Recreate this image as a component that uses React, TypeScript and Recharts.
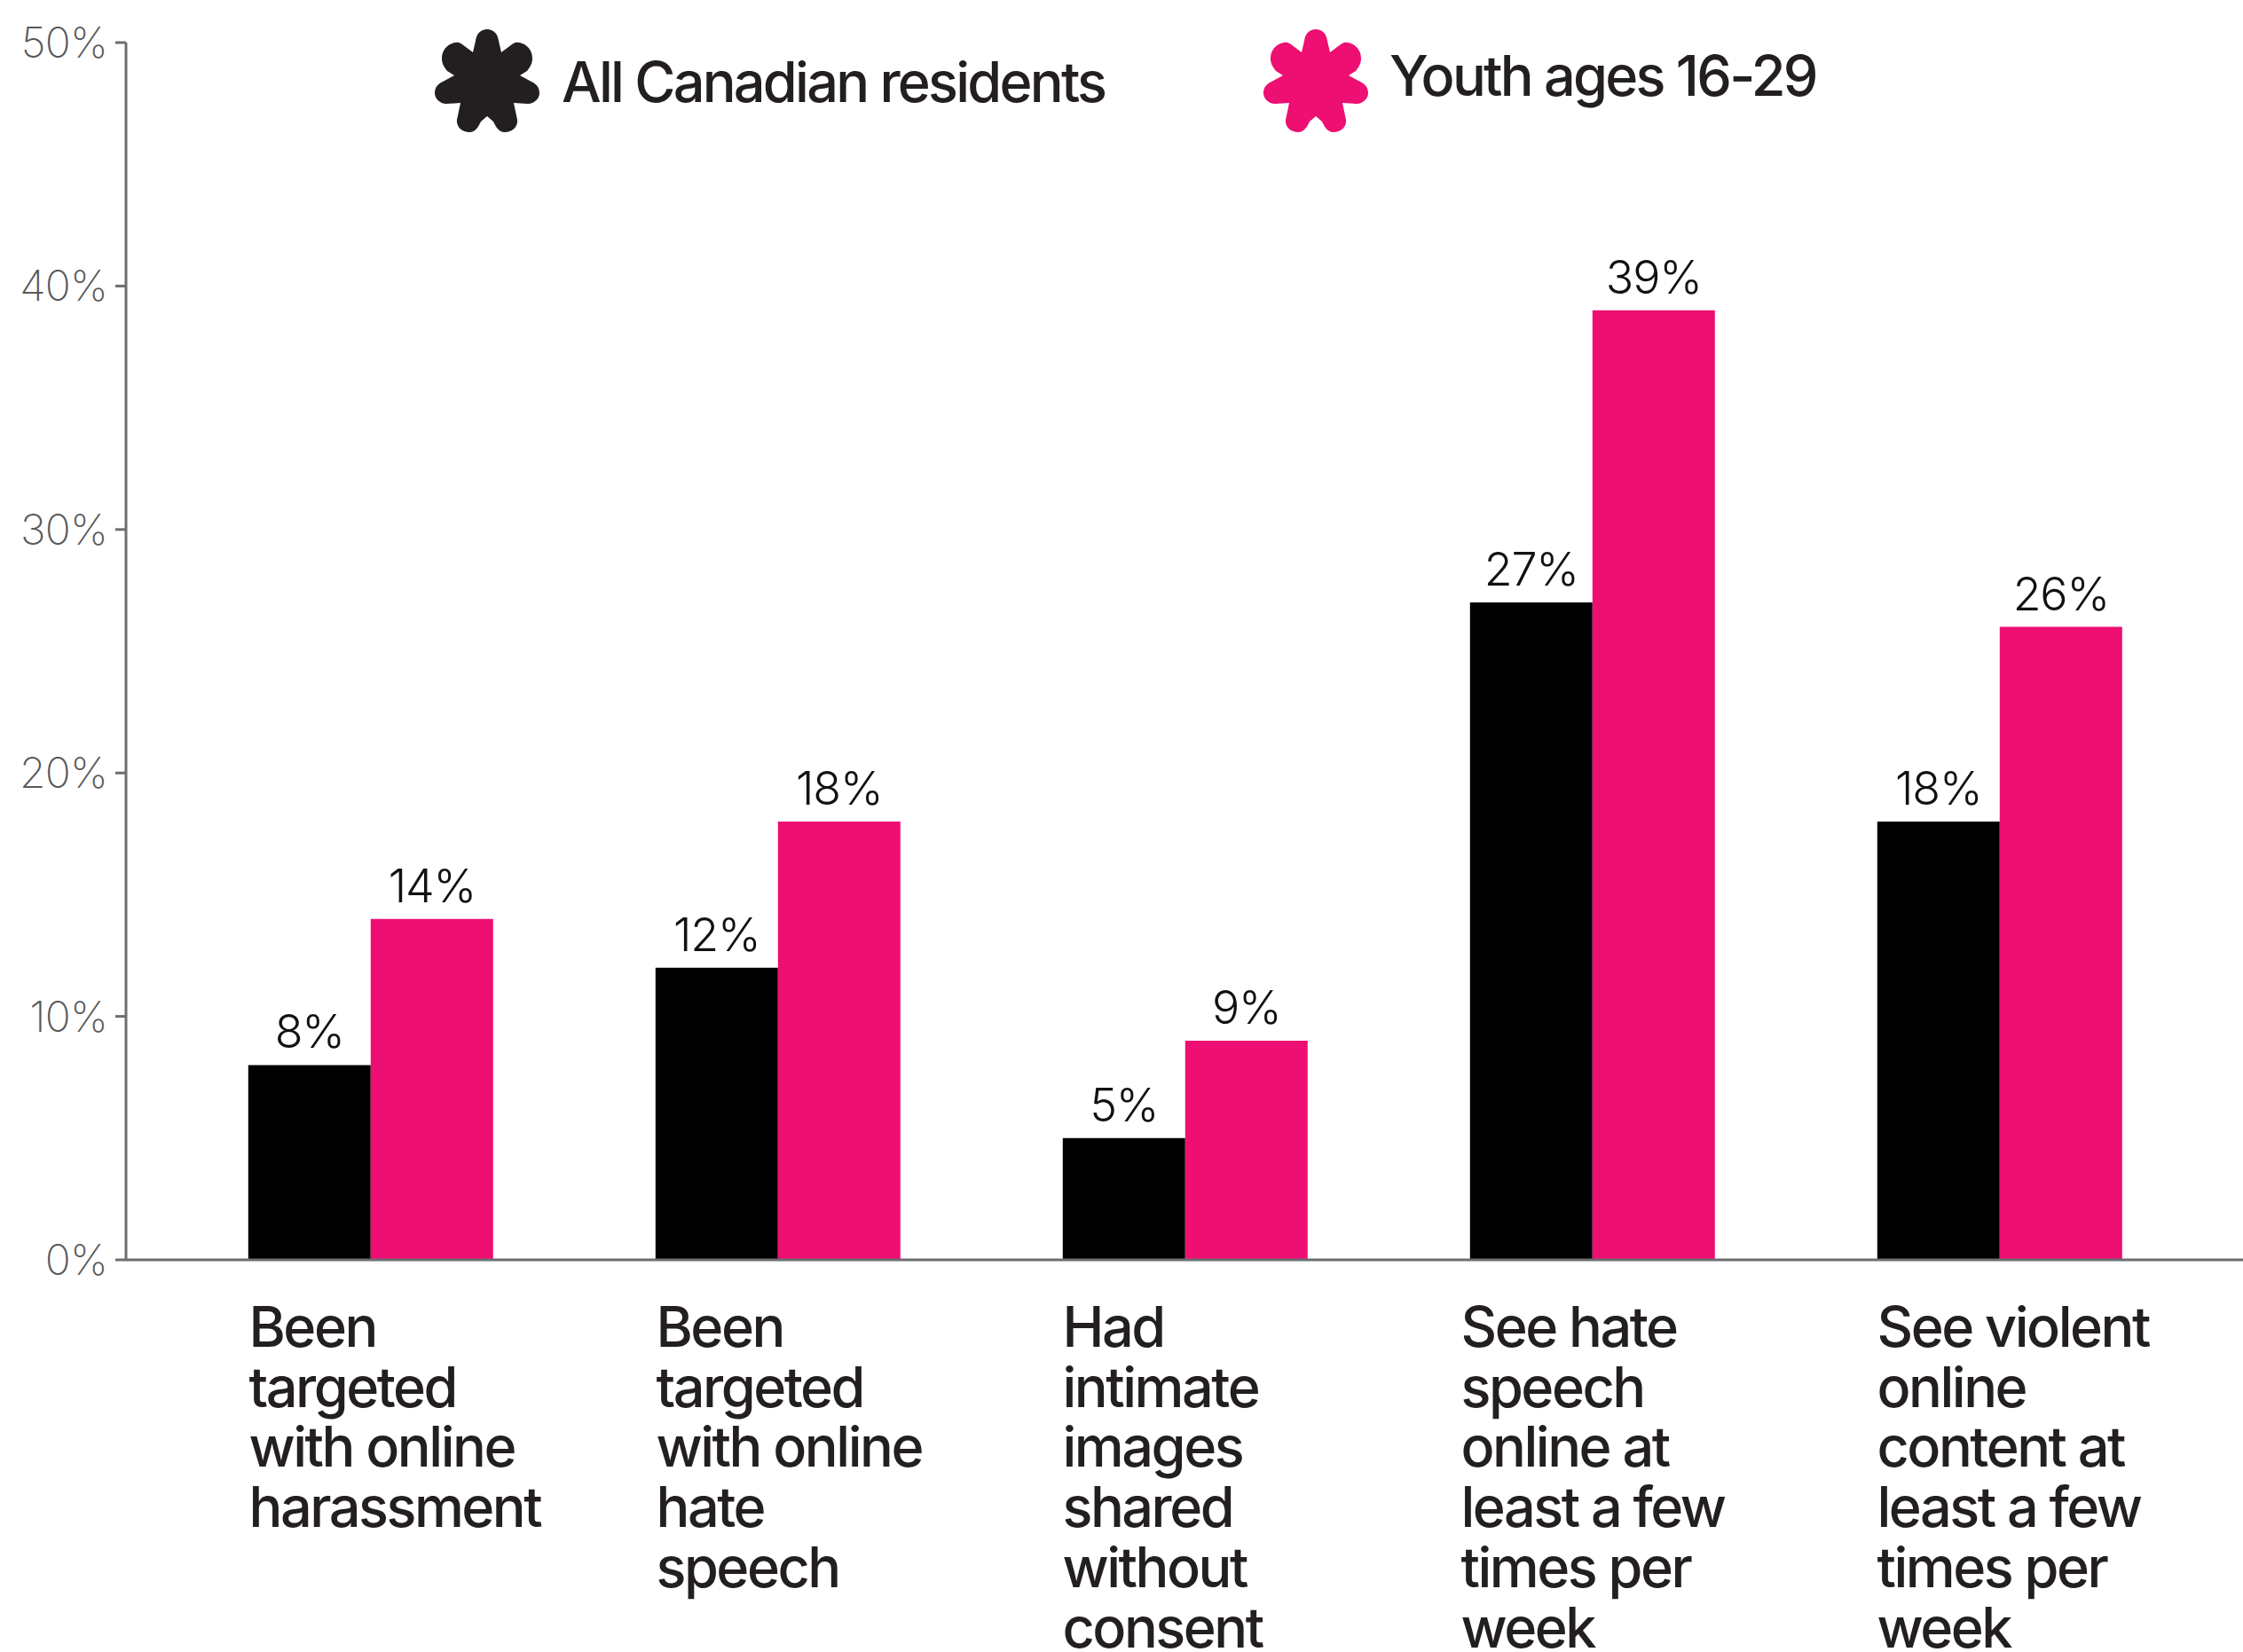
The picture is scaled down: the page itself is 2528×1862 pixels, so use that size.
import React from "react";
import { BarChart, Bar, XAxis, YAxis, Legend, LabelList } from "recharts";

const categories = ["harassment", "hateSpeech", "intimate", "seeHate", "seeViolent"];
const categoryLines: string[][] = [
  ["Been", "targeted", "with online", "harassment"],
  ["Been", "targeted", "with online", "hate", "speech"],
  ["Had", "intimate", "images", "shared", "without", "consent"],
  ["See hate", "speech", "online at", "least a few", "times per", "week"],
  ["See violent", "online", "content at", "least a few", "times per", "week"],
];
const allResidents = [8, 12, 5, 27, 18];
const youth = [14, 18, 9, 39, 26];
const yTicks = [0, 10, 20, 30, 40, 50];

const INK = "#231f20";
const PINK = "#ee0f72";
const AXIS = "#6d6e71";
const FONT = "Inter, 'Liberation Sans', sans-serif";

const rows = categories.map((key, i) => ({
  key,
  all: allResidents[i],
  youth: youth[i],
}));

// Seven-lobed flower used as the legend marker.
const FLOWER =
  "M59 0 C66 0 71 5 72 13 L75 26 L87 17 C92 13 97 15 101 17 C106 20 110 25 110 33 C110 39 107 43 104 47 L96 52 L107 58 C114 61 118 65 118 72 C118 78 112 84 105 84 L89 83 L93 102 C94 110 87 116 79 116 C72 116 69 110 66 104 L59 98 " +
  "L52 104 C49 110 46 116 39 116 C31 116 24 110 25 102 L29 83 L13 84 C6 84 0 78 0 72 C0 65 4 61 11 58 L22 52 L14 47 C11 43 8 39 8 33 C8 25 12 20 17 17 C21 15 26 13 31 17 L43 26 L46 13 C47 5 52 0 59 0 Z";

const legendSpots = [
  { iconX: 490, iconY: 33, textX: 633, textY: 54 },
  { iconX: 1424, iconY: 33, textX: 1566, textY: 47 },
];

function FlowerLegend({ payload }: any) {
  return (
    <div style={{ position: "relative", width: 2528, height: 0 }}>
      {(payload ?? []).map((entry: any, i: number) => (
        <React.Fragment key={entry.value}>
          <svg
            width={118}
            height={116}
            style={{ position: "absolute", left: legendSpots[i].iconX, top: legendSpots[i].iconY }}
          >
            <path d={FLOWER} fill={i === 0 ? INK : PINK} />
          </svg>
          <div
            style={{
              position: "absolute",
              left: legendSpots[i].textX,
              top: legendSpots[i].textY,
              fontFamily: FONT,
              fontSize: 63,
              fontWeight: 500,
              letterSpacing: -2.75,
              lineHeight: "76px",
              color: INK,
              whiteSpace: "nowrap",
            }}
          >
            {entry.value}
          </div>
        </React.Fragment>
      ))}
    </div>
  );
}

// Left-aligned wrapped labels beneath each bar pair.
const labelShift = [-137, -137, -138, -148, -138];

function CategoryTick({ x, y, index }: any) {
  const left = x + labelShift[index];
  return (
    <text x={left} y={y} fontFamily={FONT} fontSize={63} fontWeight={500} letterSpacing={-2.5} fill={INK}>
      {categoryLines[index].map((line, i) => (
        <tspan key={i} x={left} y={y + 90 + i * 67.7}>
          {line}
        </tspan>
      ))}
    </text>
  );
}

const pct = (v: number) => `${v}%`;

export default function App() {
  return (
    <div style={{ position: "absolute", left: 0, top: 0, width: 2528, height: 1862, background: "#fff" }}>
      <BarChart
        width={2528}
        height={1862}
        data={rows}
        margin={{ top: 48, right: 0, bottom: 0, left: 0 }}
        barCategoryGap="20%"
        barGap={0}
      >
        <XAxis
          dataKey="key"
          interval={0}
          height={442}
          padding={{ left: 46, right: 45 }}
          axisLine={{ stroke: AXIS, strokeWidth: 3 }}
          tickLine={false}
          tick={<CategoryTick />}
        />
        <YAxis
          width={142}
          domain={[0, 50]}
          ticks={yTicks}
          tickFormatter={pct}
          tickSize={12}
          tickMargin={9}
          axisLine={{ stroke: AXIS, strokeWidth: 3 }}
          tickLine={{ stroke: AXIS, strokeWidth: 3 }}
          tick={{ fill: "#58595b", fontFamily: FONT, fontSize: 48, fontWeight: 200, letterSpacing: -0.8 }}
        />
        <Legend content={<FlowerLegend />} wrapperStyle={{ position: "absolute", left: 0, top: 0, width: 2528, height: 0 }} />
        <Bar dataKey="all" name="All Canadian residents" fill="#000000" isAnimationActive={false}>
          <LabelList
            dataKey="all"
            position="top"
            offset={19}
            formatter={pct}
            fill="#111111"
            fontFamily={FONT}
            fontSize={52}
            fontWeight={300}
            letterSpacing={-1.2}
          />
        </Bar>
        <Bar dataKey="youth" name="Youth ages 16-29" fill={PINK} isAnimationActive={false}>
          <LabelList
            dataKey="youth"
            position="top"
            offset={19}
            formatter={pct}
            fill="#111111"
            fontFamily={FONT}
            fontSize={52}
            fontWeight={300}
            letterSpacing={-1.2}
          />
        </Bar>
      </BarChart>
    </div>
  );
}
